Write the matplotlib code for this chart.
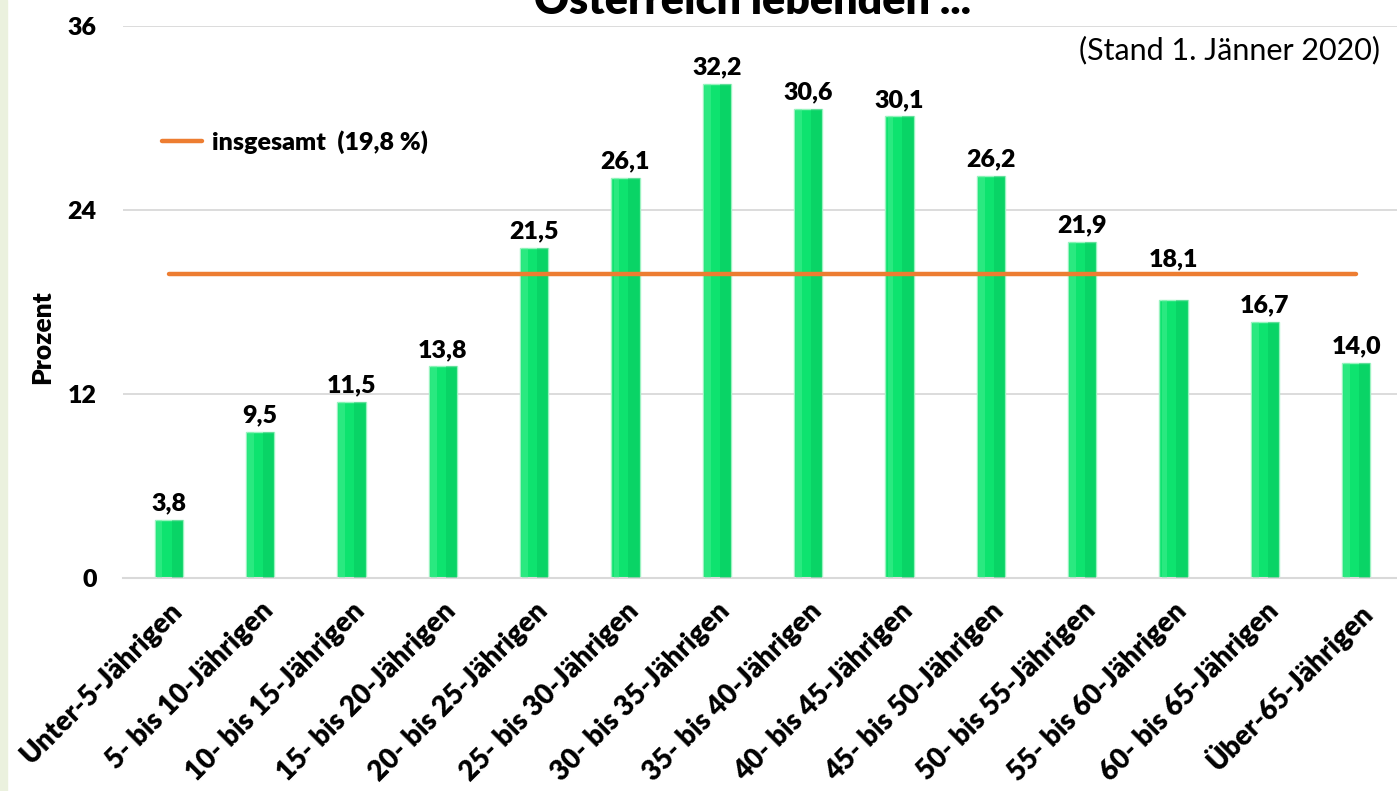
import matplotlib.pyplot as plt
from matplotlib.patches import Rectangle

plt.rcParams['font.family'] = ['Lato', 'DejaVu Sans']

categories = ['Unter-5-Jährigen', '5- bis 10-Jährigen', '10- bis 15-Jährigen',
              '15- bis 20-Jährigen', '20- bis 25-Jährigen', '25- bis 30-Jährigen',
              '30- bis 35-Jährigen', '35- bis 40-Jährigen', '40- bis 45-Jährigen',
              '45- bis 50-Jährigen', '50- bis 55-Jährigen', '55- bis 60-Jährigen',
              '60- bis 65-Jährigen', 'Über-65-Jährigen']
values = [3.8, 9.5, 11.5, 13.8, 21.5, 26.1, 32.2, 30.6, 30.1, 26.2, 21.9, 18.1, 16.7, 14.0]
total = 19.8
yticks = [0, 12, 24, 36]

BOLD = 'heavy'

fig = plt.figure(figsize=(13.97, 7.91), dpi=100)
fig.patches.append(Rectangle((0, 0), 7 / 1397, 1, transform=fig.transFigure,
                             color='#ebf1de', zorder=0))
ax = fig.add_axes([123 / 1397, 1 - 578 / 791, 1279 / 1397, 552 / 791])

x = list(range(len(categories)))
w = 0.31
ax.bar(x, values, w, color='#0ee36f', edgecolor='#9af3c0', linewidth=1, zorder=2)
# darker right side / lighter left side for a bit of relief
ax.bar([i + w * 0.3 for i in x], values, w * 0.4, color='#00b956', alpha=0.35,
       linewidth=0, zorder=3)
ax.bar([i - w * 0.32 for i in x], values, w * 0.2, color='#5ff5a0', alpha=0.35,
       linewidth=0, zorder=3)

for i, v in enumerate(values):
    off = 22 if i == 11 else 4
    ax.annotate(f'{v:.1f}'.replace('.', ','), (i, v), xytext=(0, off),
                textcoords='offset points', ha='center', va='bottom',
                fontsize=18, fontweight=BOLD, zorder=5)

ax.plot([0, len(categories) - 1], [total, total], color='#ed7d31', lw=3.2,
        solid_capstyle='round', zorder=4, label='insgesamt  (19,8 %)')

ax.set_xlim(-0.5, len(categories) - 0.5)
ax.set_ylim(0, 36)
ax.set_yticks(yticks)
ax.set_yticklabels([str(t) for t in yticks], fontsize=18, fontweight=BOLD)
ax.set_xticks(x)
ax.set_xticklabels(categories, rotation=45, ha='right', va='top',
                   rotation_mode='anchor', fontsize=20, fontweight=BOLD)
ax.tick_params(axis='y', length=0, pad=19)
ax.tick_params(axis='x', length=0, pad=14)
ax.grid(axis='y', color='#d9d9d9', lw=1.3, zorder=0)
ax.set_axisbelow(True)
for s in ['top', 'right', 'left']:
    ax.spines[s].set_visible(False)
ax.spines['bottom'].set_color('#d9d9d9')
ax.spines['bottom'].set_linewidth(1.5)

fig.text(42 / 1397, 1 - 337 / 791, 'Prozent', rotation=90, ha='center', va='center',
         fontsize=19, fontweight=BOLD)
fig.text(1380 / 1397, 1 - 50 / 791, '(Stand 1. Jänner 2020)', ha='right', va='center',
         fontsize=22)
fig.text(752 / 1397, 1 - 14 / 791, 'Österreich lebenden ...', ha='center',
         va='baseline', fontsize=31, fontweight=BOLD)

leg = ax.legend(loc='center left', bbox_to_anchor=(162 / 1397, 1 - 142 / 791),
                bbox_transform=fig.transFigure, frameon=False, borderpad=0,
                borderaxespad=0, handlelength=1.6, handletextpad=0.4,
                prop={'size': 18, 'weight': BOLD})

fig.savefig('out.png', dpi=100)
